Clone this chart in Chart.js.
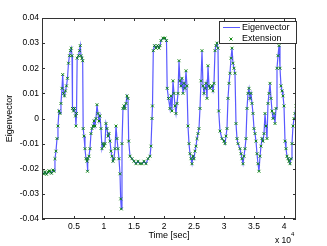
<!DOCTYPE html>
<html>
<head>
<meta charset="utf-8">
<script src="https://cdn.jsdelivr.net/npm/chart.js@4.4.1/dist/chart.umd.min.js"></script>
<style>
  html, body { margin: 0; padding: 0; background: #fff; }
  #wrap { width: 327px; height: 246px; }
</style>
</head>
<body>
<div id="wrap"><canvas id="eigChart" width="327" height="246"></canvas></div>
<script>
// time in seconds
const timeSec = [
  -330, 0, 170, 420, 670, 830, 1000, 1250, 1500, 1670, 1830, 2000, 2170, 2330, 2500, 2670, 2830, 3000, 3120, 3250,
  3420, 3580, 3750, 3920, 4080, 4250, 4420, 4550, 4670, 4750, 4920, 5080, 5250, 5330, 5420, 5530, 5750, 5920, 6050, 6170,
  6330, 6450, 6530, 6670, 6830, 7000, 7170, 7250, 7330, 7500, 7667, 7833, 8000, 8167, 8333, 8500, 8667, 8833, 9000, 9167,
  9333, 9500, 9667, 9833, 10000, 10167, 10333, 10500, 10667, 10833, 11000, 11167, 11333, 11500, 11667, 11833, 12000, 12167, 12333, 12500,
  12667, 12783, 12883, 13000, 13167, 13333, 13500, 13667, 13833, 14000, 14117, 14333, 14667, 15000, 15333, 15667, 16000, 16333, 16667, 17000,
  17333, 17667, 17833, 18000, 18083, 18217, 18417, 18667, 18917, 19167, 19333, 19500, 19833, 20167, 20417, 20533, 20750, 21000, 21167, 21333,
  21500, 21667, 21833, 22000, 22167, 22333, 22500, 22667, 22833, 23000, 23167, 23333, 23500, 23667, 23833, 24000, 24167, 24333, 24500, 24667,
  24833, 25000, 25167, 25333, 25500, 25667, 25833, 26000, 26167, 26333, 26500, 26667, 26833, 27000, 27167, 27333, 27500, 27667, 28000, 28167,
  28333, 28500, 28667, 28833, 29000, 29117, 29333, 29667, 30000, 30167, 30333, 30500, 30667, 30833, 31000, 31167, 31333, 31500, 31667, 31833,
  32000, 32167, 32333, 32667, 32833, 33000, 33167, 33333, 33500, 33667, 33833, 34000, 34167, 34333, 34500, 34667, 34833, 35000, 35167, 35333,
  35500, 35667, 35833, 36000, 36167, 36333, 36500, 36667, 36833, 37000, 37167, 37333, 37500, 37667, 37833, 38000, 38167, 38333, 38500, 38667,
  38833, 39000, 39167, 39333, 39500, 39667, 39833, 40000, 40167, 40333, 40500, 40667, 40833, 41000, 41167, 41333, 41500, 41667, 41833, 42000
];
const eigenvector = [
  -0.0215, -0.022, -0.0212, -0.0222, -0.0214, -0.0208, -0.021, -0.0218, -0.0205, -0.021, -0.016, -0.013, -0.008, -0.003, 0.003, 0.002, 0.006, 0.012, 0.0175, 0.010,
  0.009, 0.011, 0.013, 0.016, 0.022, 0.025, 0.027, 0.028, 0.025, 0.004, 0.003, 0.004, 0.001, -0.003, 0.002, 0.024, 0.025, 0.027, 0.029, 0.025,
  0.024, 0.023, -0.004, -0.007, -0.012, -0.016, -0.017, -0.021, -0.016, -0.015, -0.012, -0.006, -0.004, -0.003, -0.001, -0.003, 0.000, 0.0055, 0.002, -0.001,
  0.001, -0.004, -0.012, -0.010, -0.011, -0.010, -0.002, -0.004, -0.007, -0.006, -0.009, -0.013, -0.015, -0.017, -0.016, -0.012, -0.003, -0.008, -0.012, -0.016,
  -0.022, -0.032, -0.036, -0.010, 0.004, 0.005, 0.004, 0.006, 0.009, 0.008, -0.009, -0.015, -0.016, -0.017, -0.018, -0.017, -0.018, -0.018, -0.017, -0.018,
  -0.016, -0.015, -0.011, 0.000, 0.005, 0.027, 0.029, 0.028, 0.029, 0.028, 0.029, 0.031, 0.032, 0.032, 0.031, 0.012, 0.008, 0.004, 0.009, 0.003,
  0.015, 0.010, 0.005, 0.002, 0.006, 0.010, 0.023, 0.015, 0.013, 0.016, 0.010, 0.014, 0.012, 0.019, 0.013, -0.003, -0.010, -0.014, -0.016, -0.018,
  -0.015, -0.016, -0.013, -0.011, -0.008, -0.006, -0.004, 0.004, 0.015, 0.027, 0.013, 0.010, 0.012, 0.014, 0.008, 0.021, 0.013, 0.012, 0.013, 0.011,
  0.014, 0.027, 0.029, 0.030, 0.028, 0.003, -0.005, -0.008, -0.009, -0.010, -0.007, -0.004, 0.008, 0.014, 0.018, 0.024, 0.028, 0.022, 0.020, 0.018,
  -0.002, -0.008, -0.010, -0.012, -0.014, -0.016, -0.018, -0.015, -0.012, -0.008, 0.004, 0.010, 0.012, 0.008, 0.010, 0.006, 0.002, -0.004, -0.006, -0.009,
  -0.014, -0.018, -0.021, -0.015, -0.011, -0.008, -0.009, -0.006, 0.002, -0.003, -0.008, 0.006, 0.010, 0.014, 0.008, 0.003, 0.000, 0.002, -0.002, 0.004,
  0.020, 0.025, 0.029, 0.020, 0.013, 0.011, 0.009, 0.005, -0.009, -0.012, -0.015, -0.016, -0.017, -0.018, -0.016, -0.010, -0.003, 0.000, 0.002, 0.005
];
// the extension follows the eigenvector samples
const extension = eigenvector.slice();

const xTicks = [5000, 10000, 15000, 20000, 25000, 30000, 35000, 40000];
const yTicks = [-0.04, -0.03, -0.02, -0.01, 0, 0.01, 0.02, 0.03, 0.04];
const seriesNames = ['Eigenvector', 'Extension'];

const FONT = '"Liberation Sans", Arial, Helvetica, sans-serif';
const lineColor = 'rgba(0, 0, 255, 0.65)';
const markColor = 'rgba(0, 128, 0, 0.9)';

const toXY = (vals) => timeSec.map((t, i) => ({ x: t, y: vals[i] }));

// matlab style box, inward ticks, legend and the x 10^4 note
const matlabBox = {
  id: 'matlabBox',
  afterDraw(chart) {
    const { ctx, chartArea: a, scales } = chart;
    ctx.save();
    ctx.strokeStyle = '#333';
    ctx.lineWidth = 1;
    ctx.strokeRect(a.left + 0.5, a.top + 0.5, a.right - a.left - 1, a.bottom - a.top - 1);
    ctx.beginPath();
    xTicks.forEach(v => {
      const px = Math.round(scales.x.getPixelForValue(v)) + 0.5;
      ctx.moveTo(px, a.bottom); ctx.lineTo(px, a.bottom - 3);
      ctx.moveTo(px, a.top); ctx.lineTo(px, a.top + 3);
    });
    yTicks.forEach(v => {
      const py = Math.round(scales.y.getPixelForValue(v)) + 0.5;
      ctx.moveTo(a.left, py); ctx.lineTo(a.left + 3, py);
      ctx.moveTo(a.right, py); ctx.lineTo(a.right - 3, py);
    });
    ctx.stroke();

    // exponent note
    ctx.fillStyle = '#000';
    ctx.textBaseline = 'alphabetic';
    ctx.textAlign = 'left';
    ctx.font = '8.5px ' + FONT;
    ctx.fillText('x 10', 275, 243);
    ctx.font = '6px ' + FONT;
    ctx.fillText('4', 291, 236);

    // legend
    const lx = 219, ly = 21, lw = 78, lh = 23;
    ctx.fillStyle = '#fff';
    ctx.fillRect(lx, ly, lw, lh);
    ctx.strokeStyle = '#333';
    ctx.strokeRect(lx + 0.5, ly + 0.5, lw - 1, lh - 1);
    ctx.strokeStyle = lineColor;
    ctx.beginPath();
    ctx.moveTo(223, 27.5); ctx.lineTo(240, 27.5);
    ctx.stroke();
    ctx.strokeStyle = markColor;
    ctx.beginPath();
    ctx.moveTo(229.5, 37.5); ctx.lineTo(232.5, 40.5);
    ctx.moveTo(232.5, 37.5); ctx.lineTo(229.5, 40.5);
    ctx.stroke();
    ctx.fillStyle = '#000';
    ctx.font = '9px ' + FONT;
    ctx.textBaseline = 'middle';
    ctx.fillText(seriesNames[0], 242, 27.5);
    ctx.fillText(seriesNames[1], 242, 39);
    ctx.restore();
  }
};

new Chart(document.getElementById('eigChart').getContext('2d'), {
  type: 'scatter',
  data: {
    datasets: [
      {
        label: seriesNames[1],
        data: toXY(extension),
        showLine: false,
        pointStyle: 'crossRot',
        pointRadius: 2,
        pointBorderWidth: 1,
        pointBorderColor: markColor,
        pointBackgroundColor: markColor,
        order: 0
      },
      {
        label: seriesNames[0],
        data: toXY(eigenvector),
        showLine: true,
        borderColor: lineColor,
        borderWidth: 1.2,
        pointRadius: 0,
        tension: 0,
        order: 1
      }
    ]
  },
  options: {
    responsive: false,
    animation: false,
    layout: { padding: { top: 18, right: 31, left: 0, bottom: 0 } },
    plugins: { legend: { display: false }, tooltip: { enabled: false } },
    scales: {
      x: {
        type: 'linear',
        min: -330,
        max: 42000,
        grid: { display: false, drawTicks: false },
        border: { display: false },
        afterBuildTicks: (s) => { s.ticks = xTicks.map(v => ({ value: v })); },
        afterFit: (s) => { s.height = 27; },
        ticks: {
          padding: 3,
          color: '#000',
          font: { family: FONT, size: 8.5 },
          maxRotation: 0,
          autoSkip: false,
          callback: (v) => String(v / 10000)
        },
        title: {
          display: true,
          text: 'Time [sec]',
          color: '#000',
          font: { family: FONT, size: 9, lineHeight: 1.2 },
          padding: { top: 0, bottom: 4.6 }
        }
      },
      y: {
        type: 'linear',
        min: -0.04,
        max: 0.04,
        grid: { display: false, drawTicks: false },
        border: { display: false },
        afterBuildTicks: (s) => { s.ticks = yTicks.map(v => ({ value: v })); },
        afterFit: (s) => { s.width = 42; },
        ticks: {
          padding: 3,
          color: '#000',
          font: { family: FONT, size: 8.5 },
          autoSkip: false,
          callback: (v) => (v === 0 ? '0' : v.toFixed(2))
        },
        title: {
          display: true,
          text: 'Eigenvector',
          color: '#000',
          font: { family: FONT, size: 9, lineHeight: 1.2 },
          padding: { top: 4.6, bottom: 0 }
        }
      }
    }
  },
  plugins: [matlabBox]
});
</script>
</body>
</html>
